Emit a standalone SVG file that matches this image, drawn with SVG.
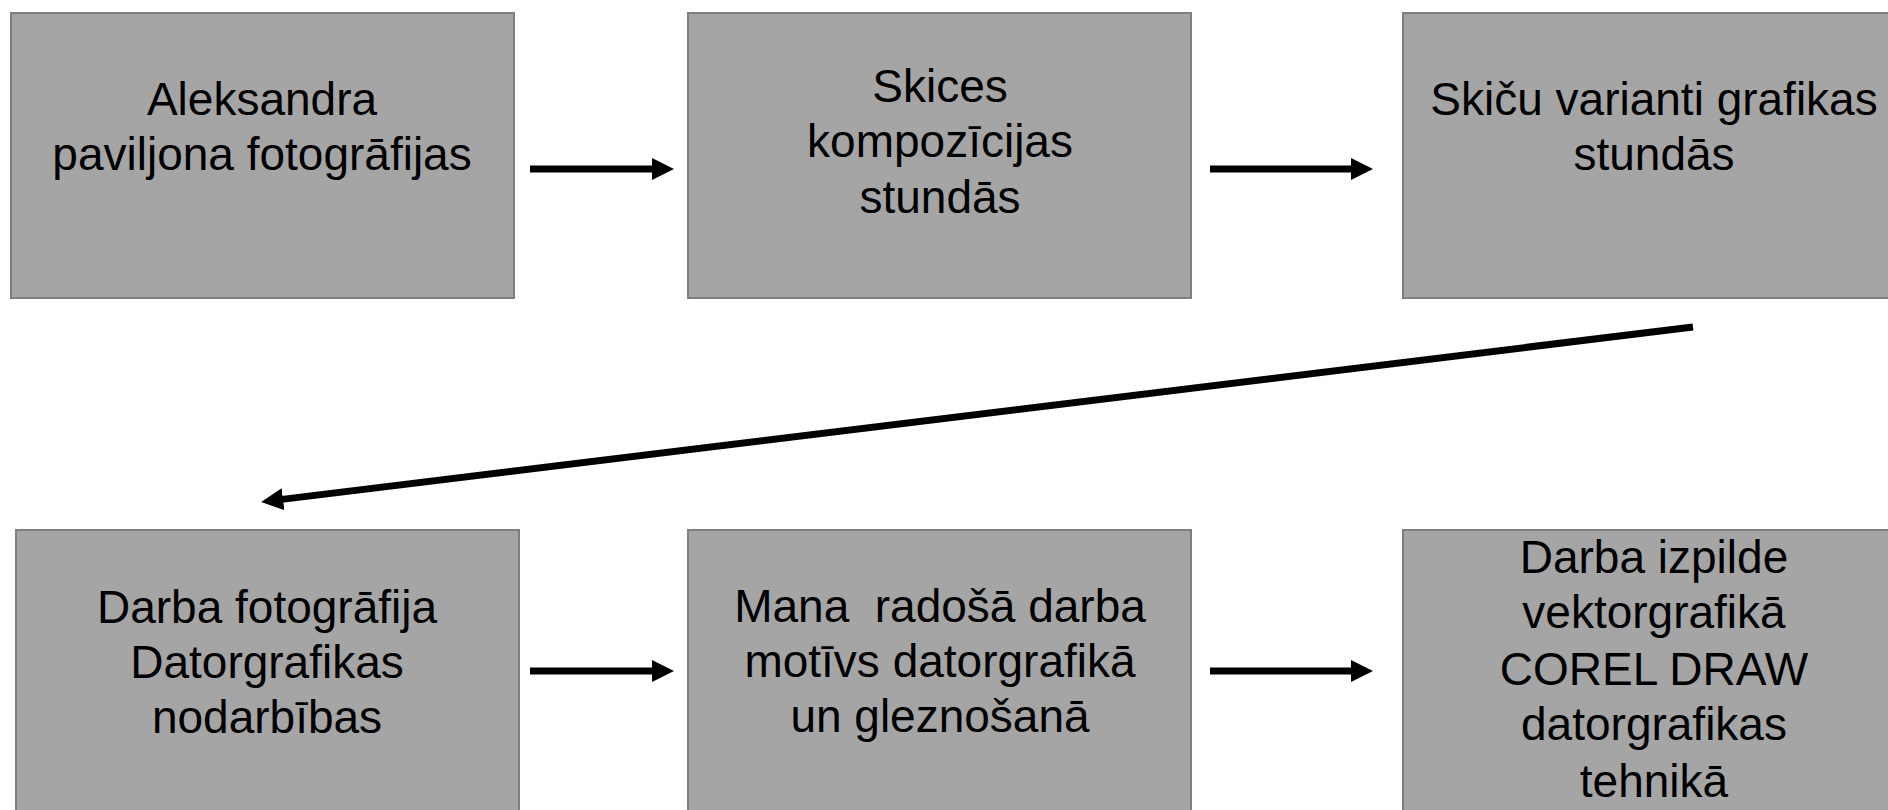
<svg xmlns="http://www.w3.org/2000/svg" width="1888" height="810" viewBox="0 0 1888 810">
<style>
.box{fill:#a5a5a5;stroke:#7f7f7f;stroke-width:2}
.t{font-family:"Liberation Sans",Arial,sans-serif;font-size:46px;fill:#000;text-anchor:middle}
.c{stroke:#000;stroke-width:7;fill:none;marker-end:url(#ah)}
</style>
<defs>
<marker id="ah" markerUnits="userSpaceOnUse" markerWidth="23" markerHeight="23" refX="1" refY="11" orient="auto">
<path d="M0,0 L22,11 L0,22 Z" fill="#000"/>
</marker>
</defs>
<rect width="1888" height="810" fill="#fff"/>
<g id="n1"><rect class="box" x="11" y="13" width="503" height="285"/>
<text class="t" x="262" y="115">Aleksandra</text><text class="t" x="262" y="170">paviljona fotogrāfijas</text></g>
<g id="n2"><rect class="box" x="688" y="13" width="503" height="285"/>
<text class="t" x="940" y="102">Skices</text><text class="t" x="940" y="157">kompozīcijas</text><text class="t" x="940" y="213">stundās</text></g>
<g id="n3"><rect class="box" x="1403" y="13" width="503" height="285"/>
<text class="t" x="1654" y="115">Skiču varianti grafikas</text><text class="t" x="1654" y="170">stundās</text></g>
<g id="n4"><rect class="box" x="16" y="530" width="503" height="290"/>
<text class="t" x="267" y="623">Darba fotogrāfija</text><text class="t" x="267" y="678">Datorgrafikas</text><text class="t" x="267" y="733">nodarbības</text></g>
<g id="n5"><rect class="box" x="688" y="530" width="503" height="290"/>
<text class="t" x="940" y="622" xml:space="preserve">Mana  radošā darba</text><text class="t" x="940" y="677">motīvs datorgrafikā</text><text class="t" x="940" y="732">un gleznošanā</text></g>
<g id="n6"><rect class="box" x="1403" y="530" width="503" height="290"/>
<text class="t" x="1654" y="573">Darba izpilde</text><text class="t" x="1654" y="628">vektorgrafikā</text><text class="t" x="1654" y="685">COREL DRAW</text><text class="t" x="1654" y="740">datorgrafikas</text><text class="t" x="1654" y="797">tehnikā</text></g>
<g id="connectors">
<line class="c" x1="530" y1="169" x2="653" y2="169"/>
<line class="c" x1="1210" y1="169" x2="1352" y2="169"/>
<line class="c" x1="1693" y1="327" x2="282" y2="499.4"/>
<line class="c" x1="530" y1="671" x2="653" y2="671"/>
<line class="c" x1="1210" y1="671" x2="1352" y2="671"/>
</g>
</svg>
